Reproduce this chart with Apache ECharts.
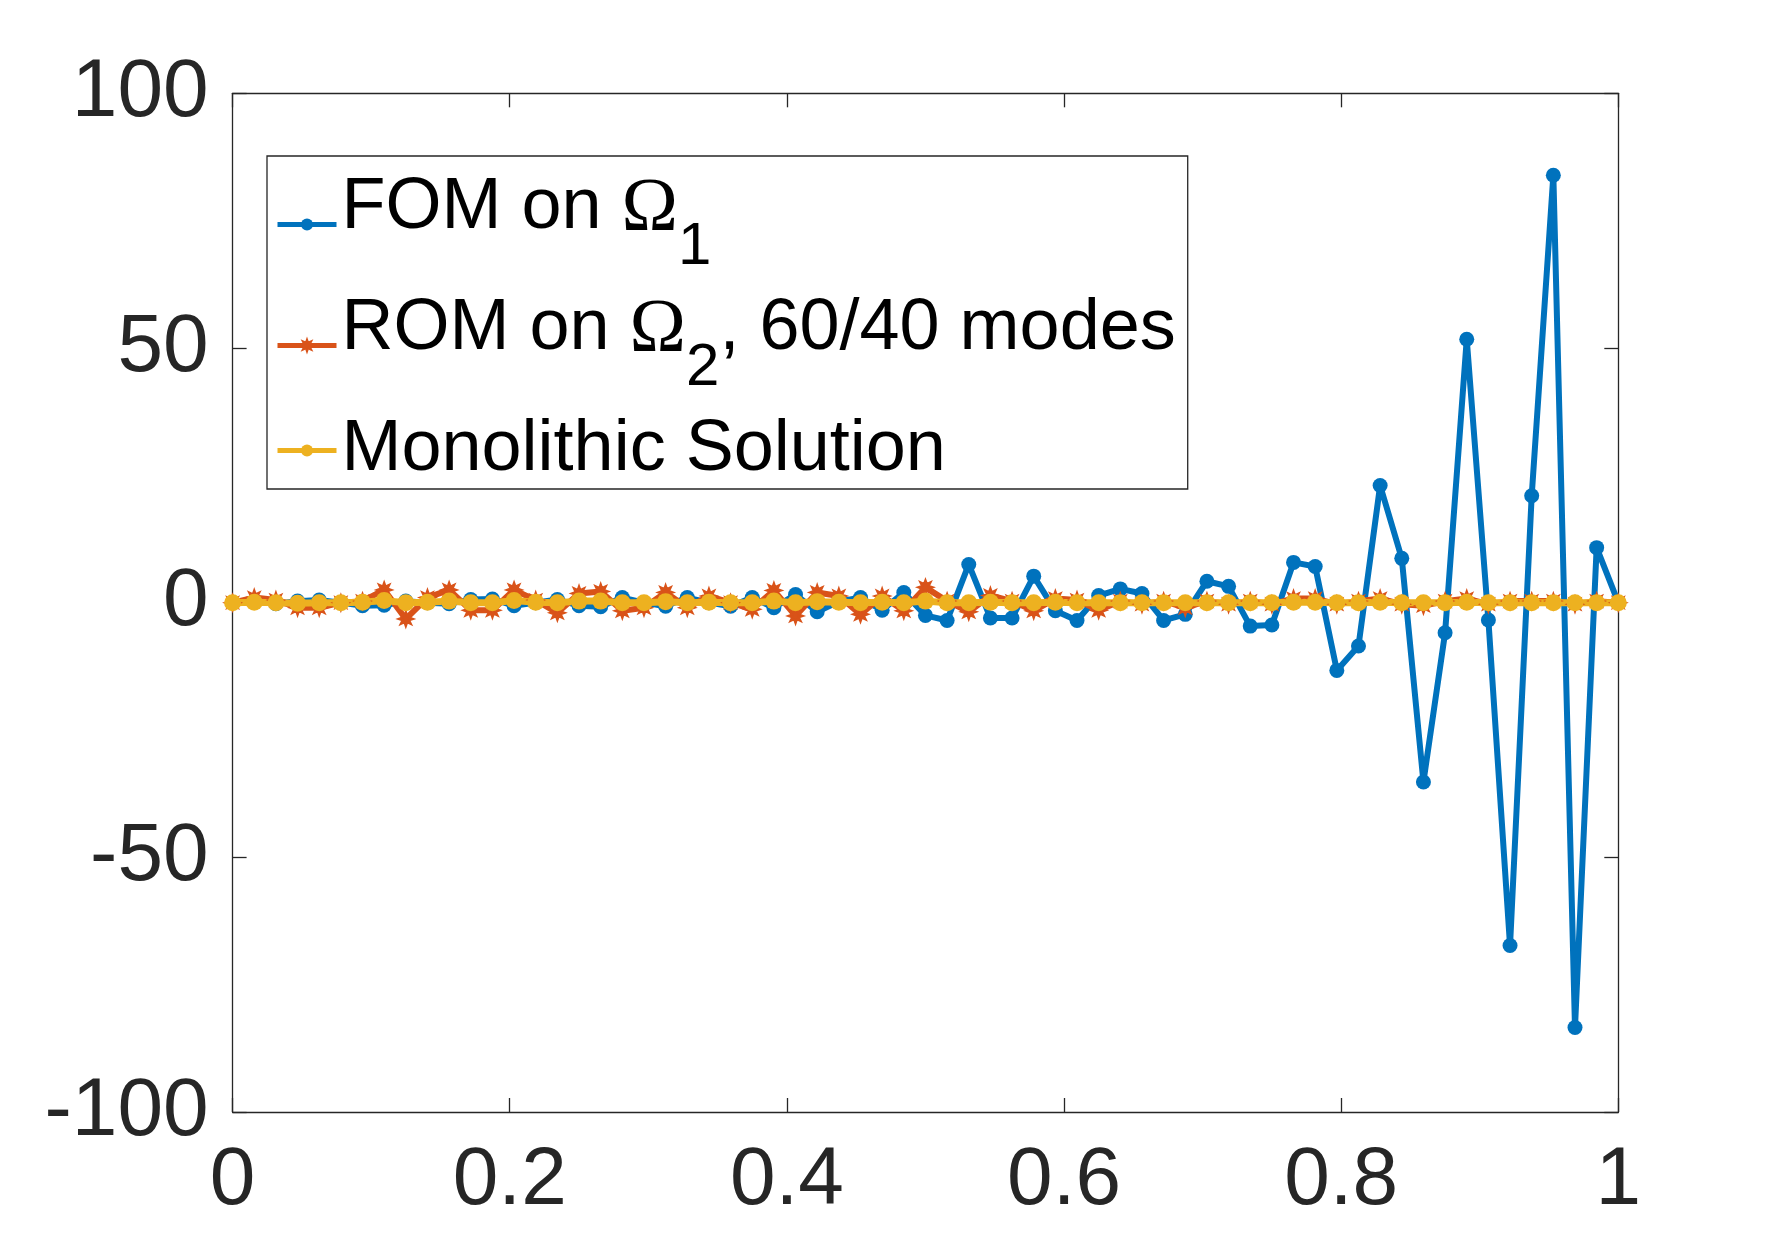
<!DOCTYPE html>
<html><head><meta charset="utf-8">
<script src="https://cdn.jsdelivr.net/npm/echarts@6/dist/echarts.min.js"></script>
<style>html,body{margin:0;padding:0;background:#fff}#c{width:1788px;height:1250px}</style>
</head><body><div id="c"></div>
<script>
// ---- data ----
const N_INTERVALS = 64; // sample grid: x = i / 64, i = 0..64
const xTickLabels = ['0', '0.2', '0.4', '0.6', '0.8', '1'];
const yTickLabels = ['-100', '-50', '0', '50', '100'];
const seriesNames = ['FOM on Ω1', 'ROM on Ω2, 60/40 modes', 'Monolithic Solution'];

const fomValues = [
  0, 0.2, -0.2, 0.3, 0.5, 0, -0.6, -0.5, 0.3, 0, -0.2, 0.6, 0.7, -0.6, 0, 0.6,
  -0.6, -0.8, 1.0, 0, -0.7, 1.0, 0, -0.7, 1.0, -1.0, 1.6, -1.8, 0.2, 1.0, -1.5, 2.0,
  -2.5, -3.5, 7.5, -3.0, -3.0, 5.2, -1.6, -3.5, 1.4, 2.7, 1.8, -3.5, -2.3, 4.2, 3.2, -4.6,
  -4.4, 7.9, 7.1, -13.3, -8.5, 23.0, 8.7, -35.2, -5.9, 51.7, -3.4, -67.3, 21.0, 83.9, -83.4, 10.8,
  0
];
const romValues = [
  0, 1.0, 0.5, -1.0, -1.0, 0, 0.3, 2.5, -3.2, 1.0, 2.5, -1.5, -1.5, 2.5, 0.5, -2.0,
  1.8, 2.2, -1.6, -1.0, 2.0, -1.0, 1.3, 0, -1.3, 2.4, -2.6, 2.0, 1.3, -2.3, 1.3, -1.6,
  3.0, 0.3, -1.8, 1.4, 0.3, -1.6, 0.8, 0.5, -1.5, 0.3, -0.3, 0.3, -1.0, 0.3, -0.3, 0.3,
  -0.3, 0.8, 0.8, -0.3, 0.3, 0.8, -0.3, -0.6, 0.3, 0.8, -0.3, 0.3, 0.3, 0.3, -0.3, 0.3,
  0
];
const monoValues = [
  0, 0.1, 0, -0.1, 0, 0, 0.1, 0.4, 0, 0.1, 0.3, 0, 0, 0.4, 0.1, 0,
  0.3, 0.3, 0, 0, 0.2, 0, 0.1, 0, 0, 0.3, 0, 0.2, 0.1, 0, 0.1, 0,
  0.3, 0, 0, 0.1, 0, 0, 0.1, 0, 0, 0, 0, 0, 0, 0, 0, 0,
  0, 0.1, 0.1, 0, 0, 0.1, 0, 0, 0, 0.1, 0, 0, 0, 0, 0, 0,
  0
];

// ---- build ----
const xs = Array.from({length: N_INTERVALS + 1}, (_, i) => i / N_INTERVALS);
const pair = vals => vals.map((v, i) => [xs[i], v]);

function starPath() {
  let d = '';
  for (let k = 0; k < 16; k++) {
    const a = k * Math.PI / 8 - Math.PI / 2;
    const r = k % 2 ? 0.5 : 1;
    const x = (r * Math.cos(a) * 10 + 10).toFixed(2);
    const y = (r * Math.sin(a) * 10 + 10).toFixed(2);
    d += (k === 0 ? 'M' : 'L') + x + ',' + y + ' ';
  }
  return 'path://' + d + 'Z';
}

const BLUE = '#0072BD', ORANGE = '#D95319', YELLOW = '#EDB120';
const AXC = '#262626';
const FONT = 'Liberation Sans';

const legendText = {};
legendText[seriesNames[0]] = '{a|FOM on }{om|Ω}{sub|1}';
legendText[seriesNames[1]] = '{a|ROM on }{om|Ω}{sub|2}{a|, 60/40 modes}';
legendText[seriesNames[2]] = '{a|Monolithic Solution}';

const axisCommon = {
  axisLine: {show: true, onZero: false, lineStyle: {color: AXC, width: 1.3}},
  axisTick: {show: true, inside: true, length: 14, lineStyle: {color: AXC, width: 1.3}},
  splitLine: {show: false}
};

const chart = echarts.init(document.getElementById('c'), null, {renderer: 'canvas'});
chart.setOption({
  animation: false,
  backgroundColor: '#fff',
  grid: {left: 232.6, right: 169.7, top: 93.3, bottom: 138, show: false},
  xAxis: [
    Object.assign({type: 'value', min: 0, max: 1, interval: 0.2, position: 'bottom',
      axisLabel: {fontSize: 82, color: AXC, fontFamily: FONT, margin: 28,
        formatter: v => xTickLabels[Math.round(v / 0.2)]}}, axisCommon),
    Object.assign({type: 'value', min: 0, max: 1, interval: 0.2, position: 'top',
      axisLabel: {show: false}}, axisCommon)
  ],
  yAxis: [
    Object.assign({type: 'value', min: -100, max: 100, interval: 50, position: 'left',
      axisLabel: {fontSize: 82, color: AXC, fontFamily: FONT, margin: 24,
        formatter: v => yTickLabels[Math.round((v + 100) / 50)]}}, axisCommon),
    Object.assign({type: 'value', min: -100, max: 100, interval: 50, position: 'right',
      axisLabel: {show: false}}, axisCommon)
  ],
  legend: {
    orient: 'vertical', left: 267, top: 156, padding: [16, 12, 3, 8],
    itemGap: 16, itemWidth: 59, itemHeight: 15,
    borderColor: AXC, borderWidth: 1.3, backgroundColor: '#fff',
    selectedMode: false,
    lineStyle: {width: 5},
    data: seriesNames,
    formatter: name => legendText[name],
    textStyle: {
      color: '#000',
      rich: {
        a: {fontFamily: FONT, fontSize: 72, color: '#000', verticalAlign: 'top', lineHeight: 73},
        om: {fontFamily: 'Liberation Serif', fontSize: 76, color: '#000', verticalAlign: 'top', lineHeight: 73},
        sub: {fontFamily: FONT, fontSize: 60, color: '#000', verticalAlign: 'bottom', lineHeight: 105}
      }
    }
  },
  series: [
    {
      name: seriesNames[0], type: 'line', data: pair(fomValues),
      symbol: 'circle', symbolSize: 15, showAllSymbol: true,
      lineStyle: {color: BLUE, width: 6},
      itemStyle: {color: BLUE}
    },
    {
      name: seriesNames[1], type: 'line', data: pair(romValues),
      symbol: starPath(), symbolSize: 15, showAllSymbol: true,
      lineStyle: {color: ORANGE, width: 6},
      itemStyle: {color: ORANGE, borderColor: ORANGE, borderWidth: 2}
    },
    {
      name: seriesNames[2], type: 'line', data: pair(monoValues),
      symbol: 'circle', symbolSize: 17, showAllSymbol: true,
      lineStyle: {color: YELLOW, width: 7},
      itemStyle: {color: YELLOW}
    }
  ]
});
</script>
</body></html>
